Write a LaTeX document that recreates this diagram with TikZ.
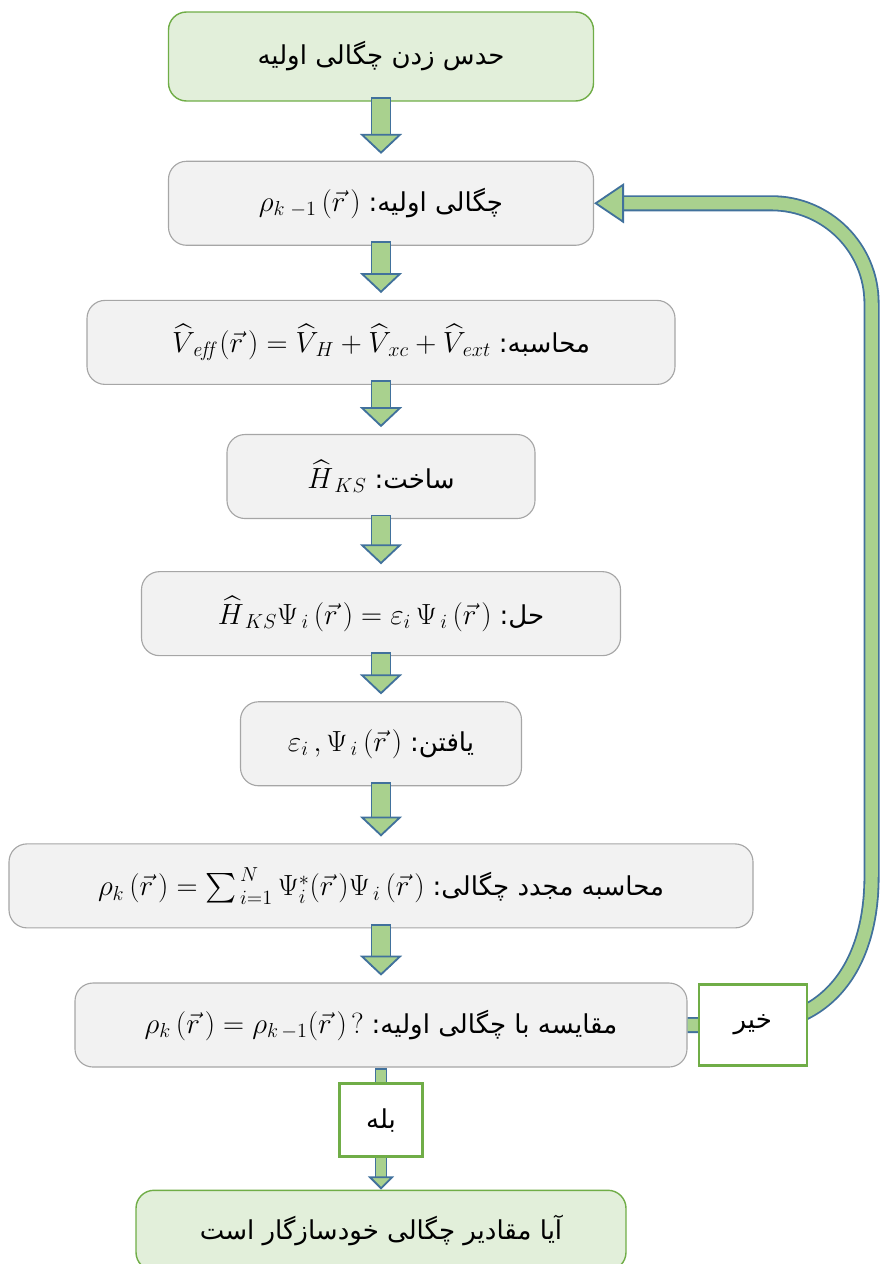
\documentclass[tikz,border=0pt]{standalone}
\usepackage{amsmath, amssymb}
\usepackage{fontspec}
\usepackage{tikz}
\usetikzlibrary{arrows.meta, positioning, calc}
\newfontfamily\farsi[Script=Arabic]{DejaVu Sans}
\TeXXeTstate=1
\newcommand{\fatext}[1]{{\farsi\beginR #1\endR}}
\newcommand{\eqtext}[1]{{\fontsize{21}{25}\selectfont$#1$}}
\definecolor{boxfill}{HTML}{F2F2F2}
\definecolor{boxline}{HTML}{A6A6A6}
\definecolor{endfill}{HTML}{E2EFDA}
\definecolor{endline}{HTML}{70AD47}
\definecolor{arrgreen}{HTML}{A9D18E}
\definecolor{arrblue}{HTML}{41719C}

\begin{document}
\begin{tikzpicture}[
    node distance=1.35cm,
    box/.style={rectangle, rounded corners=0.45cm, draw=boxline, line width=0.8pt, fill=boxfill,
                minimum height=2.1cm, align=center, font=\fontsize{18.5}{22}\selectfont},
    endbox/.style={box, draw=endline, fill=endfill, line width=1pt},
    decbox/.style={rectangle, draw=endline, line width=1.6pt, fill=white,
                   align=center, font=\fontsize{18.5}{22}\selectfont},
    arr/.style={draw=arrblue, line width=1.3pt, double=arrgreen, double distance=12.3pt, line cap=rect,
                -{Triangle[width=1.05cm, length=0.5cm, fill=arrgreen, line width=1.3pt]},
                shorten <=0.15cm, shorten >=0.17cm},
    smallarr/.style={arr, double distance=6.6pt,
                -{Triangle[width=0.65cm, length=0.33cm, fill=arrgreen, line width=1.3pt]},
                shorten <=0.17cm, shorten >=0pt},
    looparr/.style={arr, double distance=8.8pt, line cap=butt,
                -{Triangle[width=1cm, length=0.75cm, fill=arrgreen, line width=1.3pt]},
                shorten <=0pt, shorten >=0pt}
]
\useasboundingbox (0,0) rectangle (22,-31.6);
\node[endbox, minimum width=10.625cm, minimum height=2.225cm] (start) at (9.525,-1.4125)
    {\fatext{حدس زدن چگالی اولیه}};
\node[box, minimum width=10.625cm, below=1.475cm of start] (rho1)
    {\eqtext{\rho_{k\;-1}\,(\vec{r}\,)}\ \fatext{چگالی اولیه:}};
\node[box, minimum width=14.7cm, below=1.35cm of rho1] (veff)
    {\eqtext{\widehat{V}_{\,\mathit{eff}}\,(\vec{r}\,) =\widehat{V}_{\,H} +\widehat{V}_{\,xc} +\widehat{V}_{\,ext}}\ \fatext{محاسبه:}};
\node[box, minimum width=7.7cm, below=1.225cm of veff] (hks)
    {\eqtext{\widehat{H}_{\,KS}}\ \fatext{ساخت:}};
\node[box, minimum width=11.975cm, below=1.3cm of hks] (solve)
    {\eqtext{\widehat{H}_{\,KS}\Psi_{\,i}\,(\vec{r}\,) = \varepsilon_i\,\Psi_{\,i}\,(\vec{r}\,)}\ \fatext{حل:}};
\node[box, minimum width=7.025cm, below=1.125cm of solve] (find)
    {\eqtext{\varepsilon_i\,, \Psi_{\,i}\,(\vec{r}\,)}\ \fatext{یافتن:}};
\node[box, minimum width=18.6cm, below=1.425cm of find] (rhok)
    {\eqtext{\rho_k\,(\vec{r}\,) = \sum\nolimits_{\,i=1}^{\,N}\Psi_i^{*}(\vec{r}\,)\Psi_{\,i}\,(\vec{r}\,)}\ \fatext{محاسبه مجدد چگالی:}};
\node[box, minimum width=15.3cm, below=1.35cm of rhok] (compare)
    {\eqtext{\rho_k\,(\vec{r}\,) = \rho_{k\,-1}(\vec{r}\,)}\,\eqtext{?}\ \fatext{مقایسه با چگالی اولیه:}};
\node[endbox, minimum width=12.25cm, minimum height=2cm, below=3.05cm of compare] (end)
    {\fatext{آیا مقادیر چگالی خودسازگار است}};

\draw[arr] (start.south)  -- (rho1.north);
\draw[arr] (rho1.south)   -- (veff.north);
\draw[arr] (veff.south)   -- (hks.north);
\draw[arr] (hks.south)    -- (solve.north);
\draw[arr] (solve.south)  -- (find.north);
\draw[arr] (find.south)   -- (rhok.north);
\draw[arr] (rhok.south)   -- (compare.north);
\draw[smallarr] (compare.south) -- node[decbox, pos=0.43, minimum width=2.075cm, minimum height=1.825cm] (yes)
    {\fatext{بله}} (end.north);

\coordinate (loopbot) at ($(compare.east)+(4.6,3.725)$);
\draw[looparr] (compare.east)
    node[decbox, anchor=west, xshift=0.25cm, minimum width=2.7cm, minimum height=2.025cm] (no) {\fatext{خیر}}
    -- ++(1.5,0) .. controls +(2,0) and +(0,-2.25) .. (loopbot)
    [rounded corners=2.5cm] |- (rho1.east);
\end{tikzpicture}
\end{document}
